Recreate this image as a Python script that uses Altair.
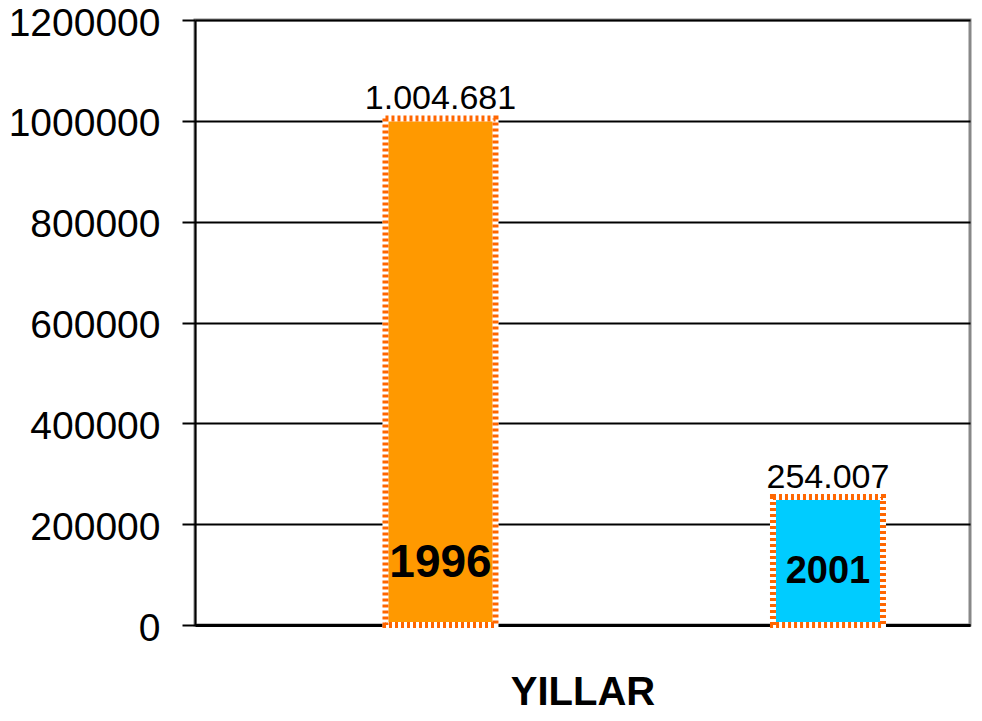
import altair as alt
import pandas as pd

years = ["1996", "2001"]
values = [1004681, 254007]
value_labels = ["1.004.681", "254.007"]
colors = ["#FF9900", "#00CCFF"]

df = pd.DataFrame({"year": years, "value": values, "label": value_labels})

FONT = "Liberation Sans"

x_scale = alt.Scale(type="band", domain=years, paddingInner=0.5, paddingOuter=0.25, align=0.767)

x_enc = alt.X(
    "year:N",
    scale=x_scale,
    axis=alt.Axis(
        labels=False, ticks=False, title="YILLAR", titleFont=FONT,
        titleFontSize=40, titleFontWeight="bold", titleColor="black",
        titlePadding=47, domainColor="black", domainWidth=3, grid=False,
    ),
)
y_enc = alt.Y(
    "value:Q",
    scale=alt.Scale(domain=[0, 1200000], nice=False),
    axis=alt.Axis(
        values=[0, 200000, 400000, 600000, 800000, 1000000, 1200000],
        format="d", labelFont=FONT, labelFontSize=39, labelColor="black",
        labelPadding=22, labelOffset=3, tickSize=13, tickColor="black", tickWidth=2,
        domainColor="black", domainWidth=2, grid=True, gridColor="black",
        gridWidth=2, gridOpacity=1, title=None, labelBound=False,
    ),
)

base = alt.Chart(df)

bars = base.mark_bar(size=110, stroke="white", strokeWidth=6).encode(
    x=x_enc, y=y_enc,
    color=alt.Color("year:N", scale=alt.Scale(domain=years, range=colors), legend=None),
)
border = base.mark_bar(size=110, fill=None, filled=False, stroke="#FF6600",
                       strokeWidth=6, strokeDash=[3, 3]).encode(x=x_enc, y=y_enc)

vals = base.mark_text(font=FONT, fontSize=34, baseline="bottom", dy=-2, color="black").encode(
    x="year:N", y="value:Q", text="label:N"
)

lab1 = base.transform_filter(alt.datum.year == "1996").mark_text(
    font=FONT, fontSize=46, fontWeight="bold", baseline="middle", dy=-62, color="black"
).encode(x="year:N", y=alt.datum(0), text="year:N")
lab2 = base.transform_filter(alt.datum.year == "2001").mark_text(
    font=FONT, fontSize=38, fontWeight="bold", baseline="middle", dy=-53, color="black"
).encode(x="year:N", y=alt.datum(0), text="year:N")

chart = alt.layer(bars, border, vals, lab1, lab2).properties(
    width=775, height=605,
    autosize=alt.AutoSizeParams(type="none"),
    padding={"left": 187, "top": 12, "right": 4, "bottom": 88},
).configure_view(stroke="#888888", strokeWidth=3)

chart.save("out.html", embed_options={"renderer": "svg", "actions": False})
